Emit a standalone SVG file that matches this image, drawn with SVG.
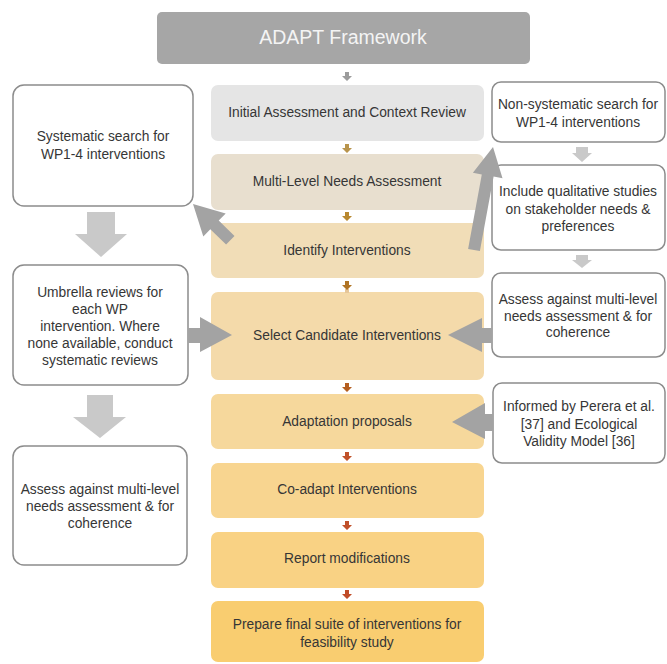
<svg xmlns="http://www.w3.org/2000/svg" xmlns:xlink="http://www.w3.org/1999/xlink" width="667" height="664" viewBox="0 0 667 664">
<style>
  text { font-family: "Liberation Sans", Arial, sans-serif; fill: #363636; text-anchor: middle; }
  .c { font-size: 13.8px; }
  .s { font-size: 13.8px; }
  .side { fill: #ffffff; stroke: #8c8c8c; stroke-width: 1.5; }
  .big { fill: #c9c9c9; }
  .mid { fill: #a3a3a3; }
</style>
<defs>
  <path id="sa" d="M-2,0 h4 v4 h3 l-5,5 l-5,-5 h3 z"/>
</defs>
<rect width="667" height="664" fill="#ffffff"/>

<g id="title">
  <rect x="157" y="12" width="373" height="52" rx="5" fill="#a6a6a6"/>
  <text x="343" y="44" style="font-size:19.5px;fill:#f4f4f4">ADAPT Framework</text>
</g>

<g id="initial">
  <rect x="211" y="85" width="273" height="56" rx="7" fill="#e5e5e5"/>
  <text class="c" x="347" y="117">Initial Assessment and Context Review</text>
</g>
<g id="needs">
  <rect x="211" y="154" width="273" height="56" rx="7" fill="#e8dfcf"/>
  <text class="c" x="347" y="186">Multi-Level Needs Assessment</text>
</g>
<g id="identify">
  <rect x="211" y="223" width="273" height="55" rx="7" fill="#f1ddb7"/>
  <text class="c" x="347" y="255">Identify Interventions</text>
</g>
<g id="select">
  <rect x="211" y="292" width="273" height="88" rx="7" fill="#f4daaa"/>
  <text class="c" x="347" y="340">Select Candidate Interventions</text>
</g>
<g id="adaptation">
  <rect x="211" y="394" width="273" height="55" rx="7" fill="#f6d89c"/>
  <text class="c" x="347" y="426">Adaptation proposals</text>
</g>
<g id="coadapt">
  <rect x="211" y="463" width="273" height="55" rx="7" fill="#f8d590"/>
  <text class="c" x="347" y="494">Co-adapt Interventions</text>
</g>
<g id="report">
  <rect x="211" y="532" width="273" height="56" rx="7" fill="#f9d284"/>
  <text class="c" x="347" y="563">Report modifications</text>
</g>
<g id="prepare">
  <rect x="211" y="601" width="273" height="61" rx="7" fill="#f9cd70"/>
  <text class="c" x="347" y="629">Prepare final suite of interventions for</text>
  <text class="c" x="347" y="647">feasibility study</text>
</g>

<g id="systematic">
  <rect class="side" x="13" y="85" width="180" height="121" rx="11"/>
  <text class="s" x="103" y="141">Systematic search for</text>
  <text class="s" x="103" y="159">WP1-4 interventions</text>
</g>
<g id="umbrella">
  <rect class="side" x="13" y="265" width="175" height="120" rx="11"/>
  <text class="s" x="100" y="297">Umbrella reviews for</text>
  <text class="s" x="100" y="314">each WP</text>
  <text class="s" x="100" y="331">intervention. Where</text>
  <text class="s" x="100" y="348">none available, conduct</text>
  <text class="s" x="100" y="365">systematic reviews</text>
</g>
<g id="assess-left">
  <rect class="side" x="13" y="446" width="174" height="119" rx="11"/>
  <text class="s" x="100" y="494">Assess against multi-level</text>
  <text class="s" x="100" y="511">needs assessment &amp; for</text>
  <text class="s" x="100" y="528">coherence</text>
</g>

<g id="nonsystematic">
  <rect class="side" x="492" y="82" width="173" height="60" rx="9"/>
  <text class="s" x="578" y="109">Non-systematic search for</text>
  <text class="s" x="578" y="127">WP1-4 interventions</text>
</g>
<g id="qualitative">
  <rect class="side" x="492" y="165" width="173" height="85" rx="9"/>
  <text class="s" x="578" y="196">Include qualitative studies</text>
  <text class="s" x="578" y="214">on stakeholder needs &amp;</text>
  <text class="s" x="578" y="231">preferences</text>
</g>
<g id="assess-right">
  <rect class="side" x="492" y="273" width="173" height="84" rx="9"/>
  <text class="s" x="578" y="304">Assess against multi-level</text>
  <text class="s" x="578" y="321">needs assessment &amp; for</text>
  <text class="s" x="578" y="337">coherence</text>
</g>
<g id="informed">
  <rect class="side" x="493" y="383" width="172" height="80" rx="9"/>
  <text class="s" x="579" y="411">Informed by Perera et al.</text>
  <text class="s" x="579" y="429">[37] and Ecological</text>
  <text class="s" x="579" y="446">Validity Model [36]</text>
</g>

<g id="connectors">
  <use xlink:href="#sa" x="347" y="72" fill="#9c9c9c"/>
  <use xlink:href="#sa" x="347" y="144" fill="#b8944c"/>
  <use xlink:href="#sa" x="347" y="212" fill="#b88830"/>
  <rect x="345" y="289" width="4" height="4" fill="#e6c79a"/>
  <use xlink:href="#sa" x="347" y="281" fill="#b07424"/>
  <use xlink:href="#sa" x="347" y="383" fill="#b45e20"/>
  <use xlink:href="#sa" x="347" y="452" fill="#c0522a"/>
  <use xlink:href="#sa" x="347" y="521" fill="#c0502a"/>
  <use xlink:href="#sa" x="347" y="590" fill="#c04c28"/>

  <path class="big" d="M87,212 H115 V234 H127 L101,257 L75,234 H87 Z"/>
  <path class="big" d="M87,395 H113 V417 H126 L100,438 L73,417 H87 Z"/>
  <path class="big" d="M576,147 H588 V153 H592 L582,162 L572,153 H576 Z"/>
  <path class="big" d="M576,255 H588 V260 H592 L582,268 L572,260 H576 Z"/>

  <path class="mid" d="M188,328 H200 V317 L232,335 L200,352 V343 H188 Z"/>
  <path class="mid" d="M492,328 H482 V318 L448,335 L482,352 V343 H492 Z"/>
  <path class="mid" d="M493,414 H485 V403 L452,422 L485,439 V431 H493 Z"/>

  <path class="mid" d="M193,204 L225.7,213.4 L218.7,220.6 L234.5,235.9 L226.1,244.5 L210.3,229.2 L203.3,236.4 Z"/>
  <path class="mid" d="M493,147 L502.5,178.2 L493.6,176.6 L479.9,251.1 L468.1,248.9 L481.8,174.4 L472.9,172.8 Z"/>
</g>
</svg>
